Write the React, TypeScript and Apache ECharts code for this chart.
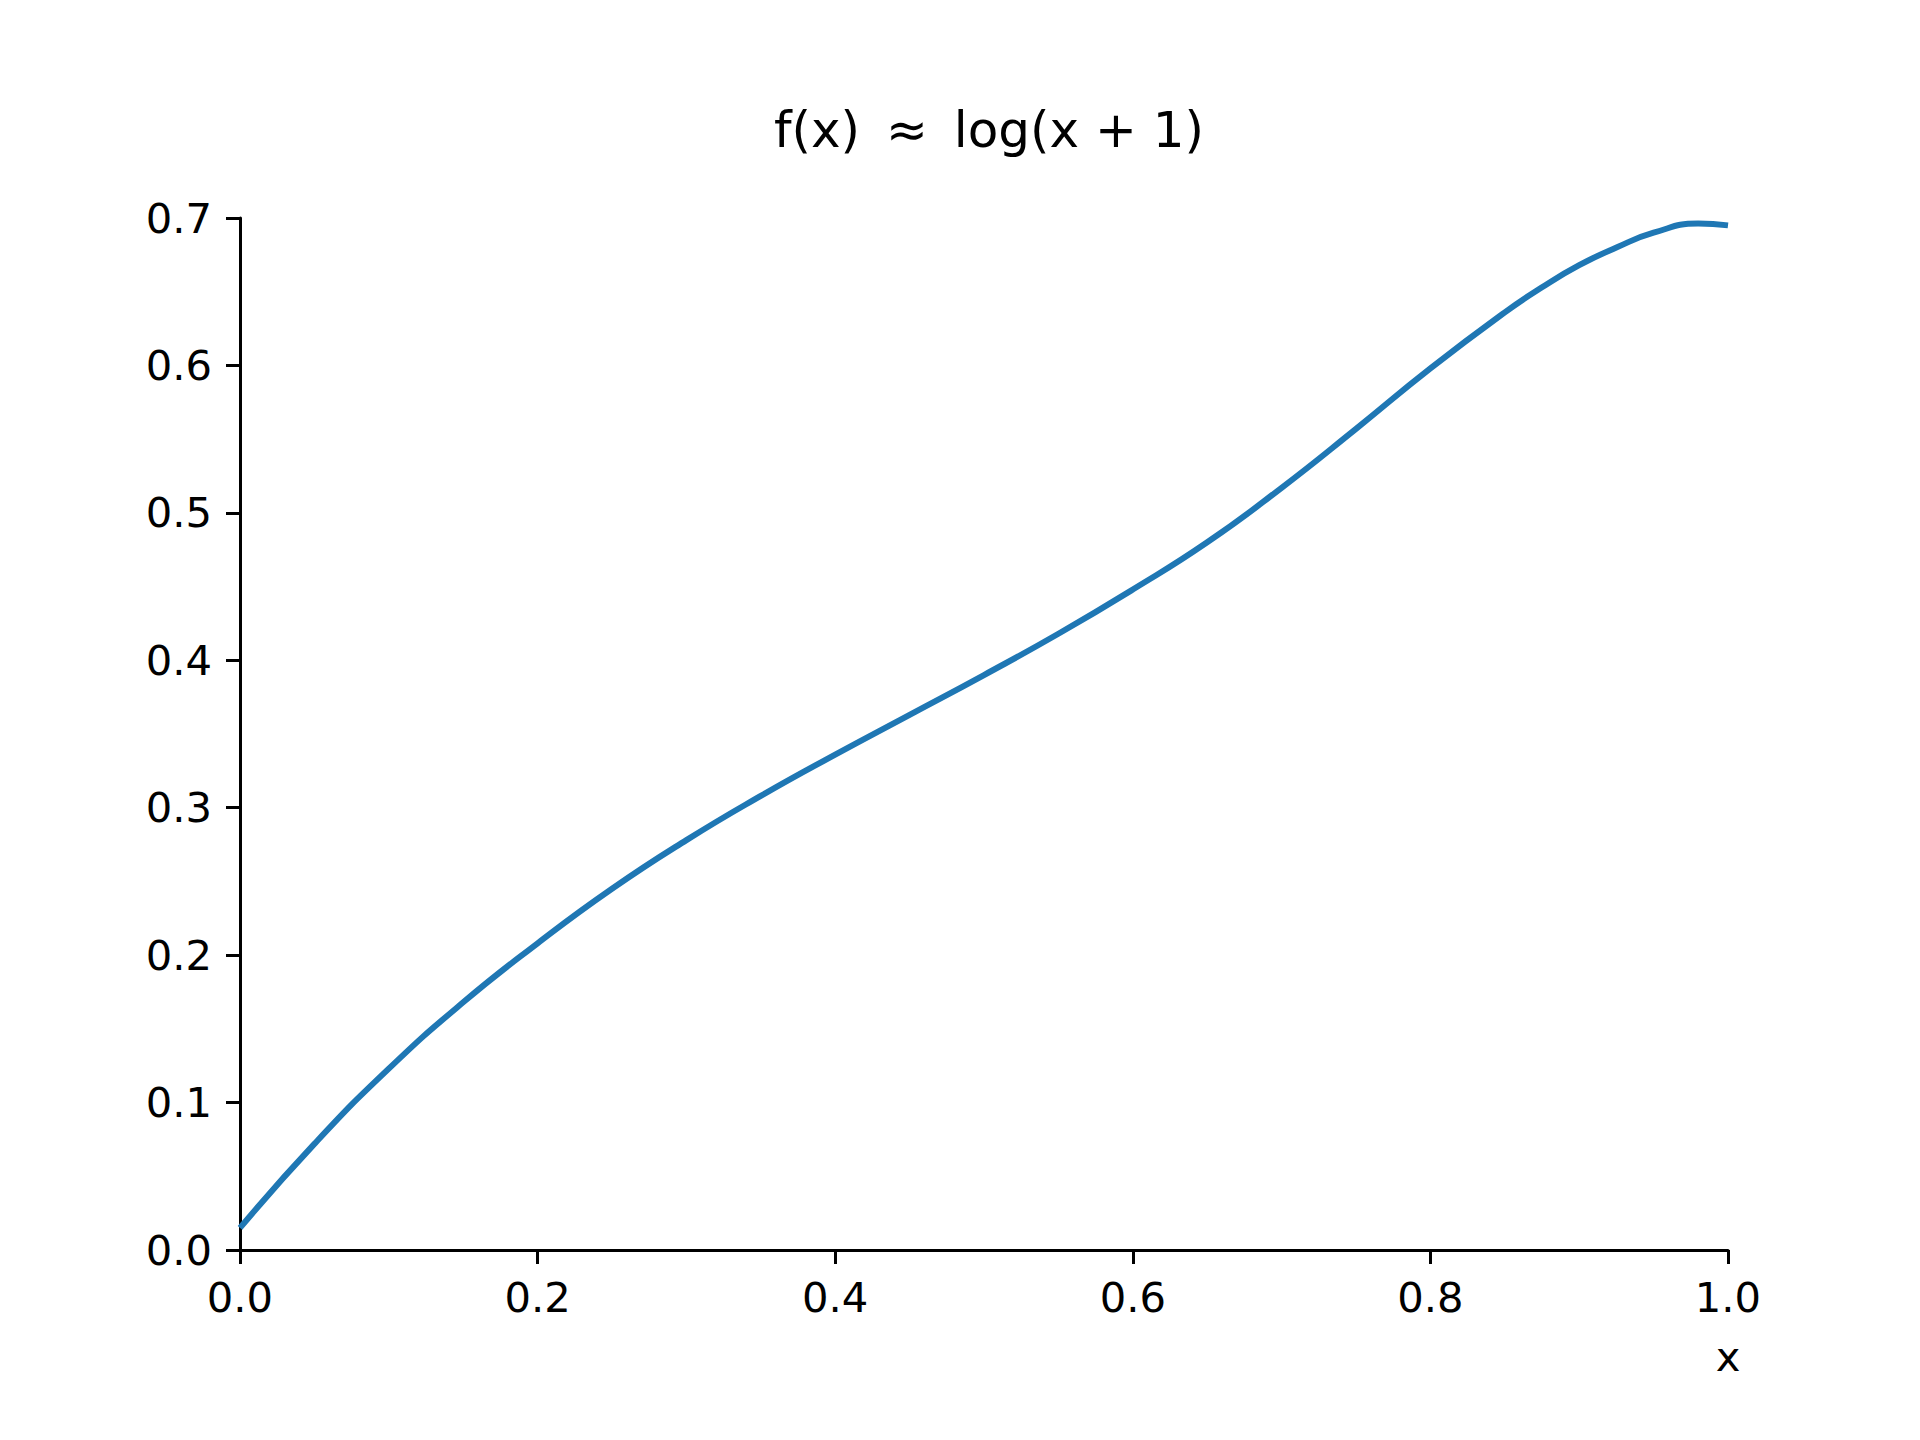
import React, { useEffect, useRef } from "react";
import * as echarts from "echarts";

const titleText = "f(x)\u2009 ≈ \u2009log(x + 1)";
const xAxisLabel = "x";

const xValues = [
  0, 0.05, 0.1, 0.15, 0.2, 0.25, 0.3, 0.35, 0.4, 0.45, 0.5, 0.55, 0.6, 0.65,
  0.7, 0.75, 0.8, 0.85, 0.875, 0.9, 0.925, 0.95, 0.98, 1.0,
];
const yValues = [
  0.015, 0.072, 0.123, 0.168, 0.208, 0.245, 0.278, 0.308, 0.336, 0.363, 0.39,
  0.418, 0.448, 0.48, 0.517, 0.557, 0.598, 0.636, 0.653, 0.668, 0.68, 0.69,
  0.6962, 0.695,
];

const FONT = "DejaVu Sans";

export default function App() {
  const ref = useRef<HTMLDivElement>(null);
  useEffect(() => {
    document.body.style.margin = "0";
    if (!ref.current) return;
    const chart = echarts.init(ref.current, undefined, { renderer: "svg" });
    const data = xValues.map((x, i) => [x, yValues[i]]);
    chart.setOption({
      animation: false,
      backgroundColor: "#ffffff",
      title: {
        text: titleText,
        left: 984,
        top: 100,
        textAlign: "center",
        textStyle: {
          fontFamily: FONT,
          fontSize: 50,
          fontWeight: "normal",
          color: "#000000",
        },
      },
      grid: { left: 240, right: 192, top: 218, bottom: 190, containLabel: false },
      xAxis: {
        type: "value",
        min: 0,
        max: 1,
        interval: 0.2,
        splitLine: { show: false },
        axisLine: { show: true, onZero: false, lineStyle: { color: "#000", width: 3 } },
        axisTick: { show: true, length: 14, lineStyle: { color: "#000", width: 3 } },
        axisLabel: {
          margin: 26,
          fontFamily: FONT,
          fontSize: 41.7,
          color: "#000",
          formatter: (v: number) => v.toFixed(1),
        },
      },
      yAxis: {
        type: "value",
        min: 0,
        max: 0.7,
        interval: 0.1,
        splitLine: { show: false },
        axisLine: { show: true, onZero: false, lineStyle: { color: "#000", width: 3 } },
        axisTick: { show: true, length: 14, lineStyle: { color: "#000", width: 3 } },
        axisLabel: {
          margin: 28,
          fontFamily: FONT,
          fontSize: 41.7,
          color: "#000",
          formatter: (v: number) => v.toFixed(1),
        },
      },
      graphic: [
        {
          type: "text",
          x: 1728,
          y: 1356,
          style: {
            text: xAxisLabel,
            fontFamily: FONT,
            fontSize: 41.7,
            fill: "#000",
            align: "center",
            verticalAlign: "middle",
          },
        },
      ],
      series: [
        {
          type: "line",
          data,
          smooth: 0.5,
          showSymbol: false,
          symbol: "none",
          lineStyle: { color: "#1f77b4", width: 6 },
        },
      ],
    });
    return () => chart.dispose();
  }, []);
  return <div ref={ref} style={{ width: 1920, height: 1440 }} />;
}
